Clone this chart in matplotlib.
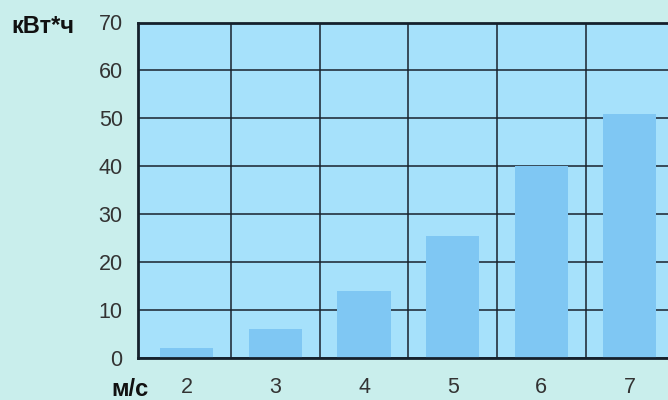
import matplotlib
matplotlib.use('Agg')
import matplotlib.pyplot as plt
import numpy as np

# wind speed (m/s) vs energy (kWh)
speeds = ['2', '3', '4', '5', '6', '7']
energy = [2, 6, 14, 25.5, 40, 51]
yticks = [0, 10, 20, 30, 40, 50, 60, 70]

plt.rcParams['font.family'] = ['Liberation Sans', 'DejaVu Sans']

fig = plt.figure(figsize=(6.68, 4.0), dpi=100)
fig.patch.set_facecolor('#c9eeec')

ax = fig.add_axes([138/668, 42/400, 530/668, 335.5/400])
ax.set_facecolor('#a6e1fb')

x = np.arange(len(speeds))
ax.set_axisbelow(True)
ax.bar(x, energy, width=0.6, color='#7fc7f3', zorder=2)

ax.set_xlim(-0.55, 5.43)
ax.set_ylim(0, 70)
ax.set_yticks(yticks)
ax.set_xticks(x)
ax.set_xticklabels(speeds)
ax.set_xticks(x[:-1] + 0.5, minor=True)

ax.grid(axis='y', which='major', color='#18222e', linewidth=1.1)
ax.grid(axis='x', which='minor', color='#18222e', linewidth=1.1)
ax.tick_params(which='both', length=0)
ax.tick_params(axis='y', pad=11, labelsize=15.5, labelcolor='#333333')
ax.tick_params(axis='x', pad=14, labelsize=15.5, labelcolor='#333333')

for s in ['left', 'bottom', 'top']:
    ax.spines[s].set_linewidth(2)
    ax.spines[s].set_color('#15202c')
ax.spines['right'].set_visible(False)

fig.text(11/668, 1 - 33/400, 'кВт*ч', fontsize=17, fontweight='bold', color='#111111')
fig.text(111/668, 1 - 396/400, 'м/с', fontsize=17, fontweight='bold', color='#111111')

fig.savefig('out.png', dpi=100, facecolor=fig.get_facecolor())
